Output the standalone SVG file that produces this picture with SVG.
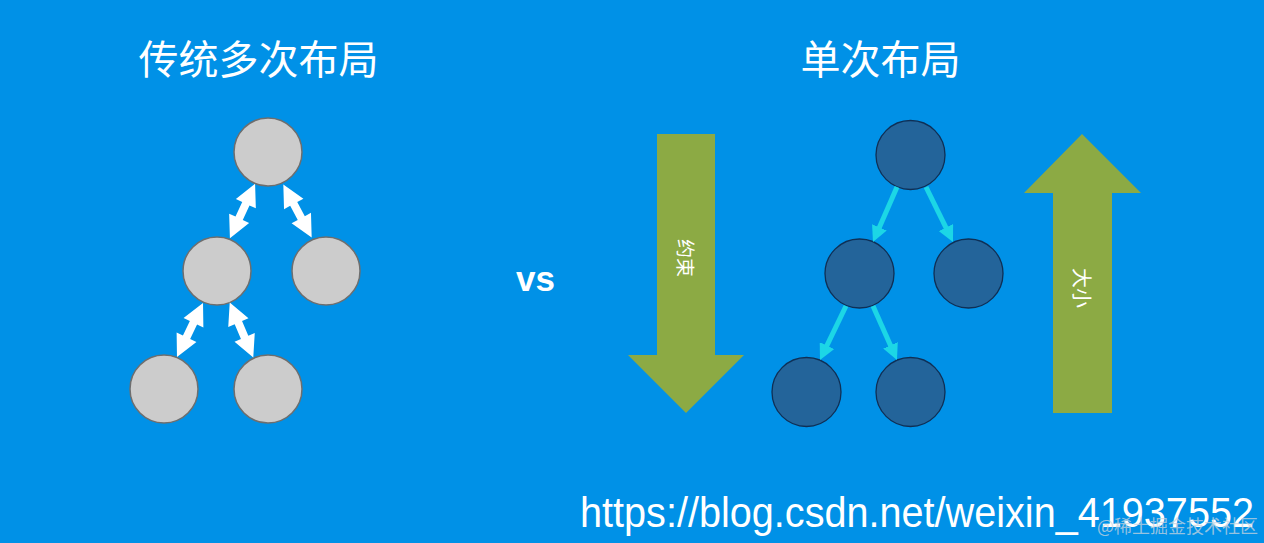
<svg xmlns="http://www.w3.org/2000/svg" xmlns:xlink="http://www.w3.org/1999/xlink" width="1264" height="543" viewBox="0 0 1264 543">
  <style>
    .title { font-family: "Noto Sans CJK SC", "Noto Sans", sans-serif; font-size: 40px; fill: #FFFFFF; text-anchor: middle; }
    .gray { fill: #CCCCCC; stroke: #6E6E6E; stroke-width: 1.5; }
    .dark { fill: #23649A; stroke: #0F2F55; stroke-width: 1.3; }
    .green { fill: #8CAA44; }
    .vlabel { font-family: "Noto Sans CJK SC", "Noto Sans", sans-serif; fill: #FFFFFF; text-anchor: middle; dominant-baseline: central; }
    .cyan { stroke: #1CD6E6; stroke-width: 5; fill: none; marker-end: url(#cyanHead); }
    .dbl { fill: #FFFFFF; }
  </style>
  <defs>
    <marker id="cyanHead" markerUnits="userSpaceOnUse" markerWidth="16" markerHeight="16" refX="4" refY="8" orient="auto">
      <path d="M0,0 L16,8 L0,16 Z" fill="#1CD6E6"/>
    </marker>
    <polygon id="dblArrow" points="0,-30 11,-8 4,-8 4,8 11,8 0,30 -11,8 -4,8 -4,-8 -11,-8"/>
  </defs>

  <rect x="0" y="0" width="1264" height="543" fill="#0091E7"/>

  <g id="title-left"><text class="title" x="258.5" y="74">传统多次布局</text></g>
  <g id="title-right"><text class="title" x="880.5" y="74">单次布局</text></g>

  <g id="left-n1"><circle class="gray" cx="268" cy="152" r="34"/></g>
  <g id="left-n2"><circle class="gray" cx="217" cy="271" r="34"/></g>
  <g id="left-n3"><circle class="gray" cx="326" cy="271" r="34"/></g>
  <g id="left-n4"><circle class="gray" cx="164" cy="389" r="34"/></g>
  <g id="left-n5"><circle class="gray" cx="268" cy="389" r="34"/></g>

  <g id="vs"><text x="535.5" y="291" font-family="Liberation Sans, Arial, sans-serif" font-weight="bold" font-size="35" fill="#FFFFFF" text-anchor="middle">vs</text></g>

  <g id="arrow-constraint">
    <polygon class="green" points="657,134 715,134 715,355 744,355 686,413 628,355 657,355"/>
    <text class="vlabel" font-size="19" transform="translate(686,258) rotate(90)">约束</text>
  </g>

  <g id="right-n1"><circle class="dark" cx="910.5" cy="155" r="34.5"/></g>
  <g id="right-n2"><circle class="dark" cx="859.5" cy="273.5" r="34.5"/></g>
  <g id="right-n3"><circle class="dark" cx="968.5" cy="273.5" r="34.5"/></g>
  <g id="right-n4"><circle class="dark" cx="806.5" cy="392" r="34.5"/></g>
  <g id="right-n5"><circle class="dark" cx="910.5" cy="392" r="34.5"/></g>

  <g id="arrow-size">
    <polygon class="green" points="1082,134 1141,193 1112,193 1112,413 1053,413 1053,193 1024,193"/>
    <text class="vlabel" font-size="20" transform="translate(1082,288) rotate(90)">大小</text>
  </g>

  <g id="connectors">
    <use xlink:href="#dblArrow" class="dbl" transform="translate(242.5,211) rotate(24.8)"/>
    <use xlink:href="#dblArrow" class="dbl" transform="translate(297.5,211) rotate(-28.2)"/>
    <use xlink:href="#dblArrow" class="dbl" transform="translate(190,330) rotate(25.7)"/>
    <use xlink:href="#dblArrow" class="dbl" transform="translate(241.5,330) rotate(-23.1)"/>
    <line class="cyan" x1="897" y1="187" x2="877.8" y2="231"/>
    <line class="cyan" x1="926" y1="187" x2="947.7" y2="231.2"/>
    <line class="cyan" x1="846" y1="306" x2="825.2" y2="349.2"/>
    <line class="cyan" x1="873" y1="306" x2="892.1" y2="349"/>
  </g>

  <g id="url"><text x="580" y="527" font-family="Liberation Sans, Arial, sans-serif" font-size="43" fill="#FFFFFF" textLength="674" lengthAdjust="spacingAndGlyphs">https://blog.csdn.net/weixin_41937552</text></g>
  <g id="watermark"><text x="1258" y="533" font-family="Noto Sans CJK SC, sans-serif" font-size="18" fill="#C8D4DE" fill-opacity="0.75" text-anchor="end">@稀土掘金技术社区</text></g>
</svg>
